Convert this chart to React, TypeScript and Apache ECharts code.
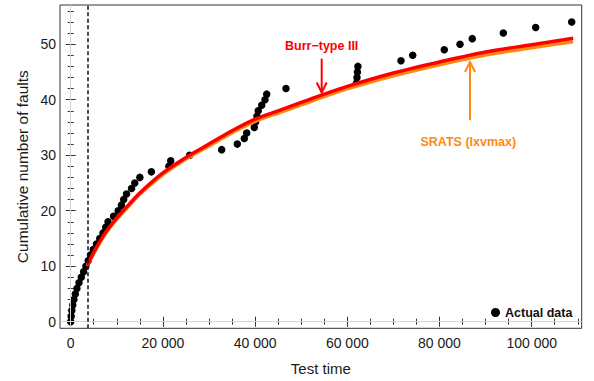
import React, { useEffect, useRef } from "react";
import * as echarts from "echarts";

// ---- Data ----
const faultTimes = [
  0, 100, 250, 450, 700, 1000, 1350, 1800, 2300, 2800, 3300, 3800, 4300, 4900, 5600, 6300,
  7000, 7600, 8100, 9300, 10300, 11000, 11500, 12100, 13200, 13900, 15000, 17500, 21300,
  21700, 25800, 32750, 36140, 37660, 38180, 39830, 40100, 40400, 40690, 41430, 42150, 42520,
  46700, 62000, 62100, 62200, 62300, 71650, 74190, 81040, 84450, 87110, 93840, 100870, 108680,
];
const faultCounts = [
  0, 1, 2, 3, 4, 5, 6, 7, 8, 9, 10, 11, 12, 13, 14, 15, 16, 17, 18, 19, 20, 21, 22, 23, 24,
  25, 26, 27, 28, 29, 30, 31, 32, 33, 34, 35, 36, 37, 38, 39, 40, 41, 42, 43, 44, 45, 46, 47,
  48, 49, 50, 51, 52, 53, 54,
];

const curveTimes = [
  3600, 5000, 7500, 10000, 12500, 15000, 20000, 25000, 30000, 35000, 40000, 45000, 50000,
  55000, 60000, 70000, 80000, 90000, 100000, 109000,
];
const burrValues = [
  10.1, 12.5, 16.0, 18.7, 21.0, 23.2, 26.8, 29.6, 32.0, 34.4, 36.5, 38.0, 39.5, 41.0, 42.4,
  44.8, 46.8, 48.6, 49.9, 51.06,
];
const sratsValues = [
  10.0, 12.35, 15.8, 18.5, 20.75, 22.95, 26.5, 29.3, 31.65, 34.05, 36.1, 37.6, 39.05, 40.55,
  41.95, 44.3, 46.3, 48.05, 49.35, 50.45,
];

const changePoint = 3600;

const xLabelValues = [0, 20000, 40000, 60000, 80000, 100000];
const xMinorTicks = [
  0, 5000, 10000, 15000, 20000, 25000, 30000, 35000, 40000, 45000, 50000, 55000, 60000, 65000,
  70000, 75000, 80000, 85000, 90000, 95000, 100000, 105000, 110000,
];
const yLabelValues = [0, 10, 20, 30, 40, 50];
const yMinorTicks = [
  0, 2, 4, 6, 8, 10, 12, 14, 16, 18, 20, 22, 24, 26, 28, 30, 32, 34, 36, 38, 40, 42, 44, 46,
  48, 50, 52, 54, 56,
];

const burrLabel = "Burr−type III";
const sratsLabel = "SRATS (lxvmax)";
const burrArrow = { t: 54450, from: 47.4, to: 41.3, label: 49.7 };
const sratsArrow = { t: 86620, from: 36.3, to: 46.8, labelT: 86250, label: 32.3 };

const X_MIN = -2320;
const X_MAX = 110850;
const Y_MIN = -1.19;
const Y_MAX = 57.06;

const FONT = '"Liberation Sans", Arial, sans-serif';
const RED = "#ff0000";
const ORANGE = "#ff8a10";

function fmt(v: number): string {
  if (v >= 1000) {
    const th = Math.floor(v / 1000);
    const rest = String(v % 1000).padStart(3, "0");
    return th + " " + rest;
  }
  return String(v);
}

function xAxisCfg(position: string, ticks: number[], len: number, labels: boolean) {
  return {
    type: "value",
    position,
    min: X_MIN,
    max: X_MAX,
    axisLine: { show: false },
    splitLine: { show: false },
    axisTick: {
      show: true,
      inside: true,
      length: len,
      customValues: ticks,
      lineStyle: { color: "#333", width: 1 },
    },
    axisLabel: labels
      ? {
          show: true,
          customValues: xLabelValues,
          formatter: (v: number) => fmt(v),
          color: "#1a1a1a",
          fontSize: 14,
          fontFamily: FONT,
          margin: 8,
        }
      : { show: false },
  };
}

function yAxisCfg(position: string, ticks: number[], len: number, labels: boolean) {
  return {
    type: "value",
    position,
    min: Y_MIN,
    max: Y_MAX,
    axisLine: { show: false },
    splitLine: { show: false },
    axisTick: {
      show: true,
      inside: true,
      length: len,
      customValues: ticks,
      lineStyle: { color: "#333", width: 1 },
    },
    axisLabel: labels
      ? {
          show: true,
          customValues: yLabelValues,
          color: "#1a1a1a",
          fontSize: 14,
          fontFamily: FONT,
          margin: 4,
        }
      : { show: false },
  };
}

function textEl(text: string, x: number, y: number, font: string, fill: string, rotation = 0) {
  return {
    type: "text",
    x,
    y,
    rotation,
    silent: true,
    style: {
      text,
      font,
      fill,
      align: "center",
      verticalAlign: "middle",
      textAlign: "center",
      textVerticalAlign: "middle",
    },
  };
}

export default function App() {
  const ref = useRef<HTMLDivElement>(null);

  useEffect(() => {
    document.body.style.margin = "0";
    if (!ref.current) return;
    const chart = echarts.init(ref.current, undefined, { renderer: "svg" });

    const scatterData = faultTimes.map((t, i) => [t, faultCounts[i]]);
    const burrData = curveTimes.map((t, i) => [t, burrValues[i]]);
    const sratsData = curveTimes.map((t, i) => [t, sratsValues[i]]);

    chart.setOption({
      animation: false,
      grid: {
        left: 60,
        top: 5,
        right: 12.3,
        bottom: 52.7,
        show: true,
        borderColor: "#333",
        borderWidth: 1,
        backgroundColor: "transparent",
      },
      legend: {
        data: ["Actual data"],
        left: 491,
        top: 306,
        icon: "circle",
        itemWidth: 9,
        itemHeight: 9,
        padding: 0,
        selectedMode: false,
        textStyle: { fontWeight: "bold", fontSize: 12.5, color: "#111", fontFamily: FONT },
      },
      xAxis: [
        xAxisCfg("bottom", xLabelValues, 5, true),
        xAxisCfg("bottom", xMinorTicks, 3, false),
        xAxisCfg("top", xLabelValues, 5, false),
        xAxisCfg("top", xMinorTicks, 3, false),
      ],
      yAxis: [
        yAxisCfg("left", yLabelValues, 5, true),
        yAxisCfg("left", yMinorTicks, 3, false),
        yAxisCfg("right", yLabelValues, 5, false),
        yAxisCfg("right", yMinorTicks, 3, false),
      ],
      series: [
        {
          type: "line",
          name: "refs",
          data: [],
          silent: true,
          markLine: {
            silent: true,
            symbol: ["none", "none"],
            label: { show: false },
            animation: false,
            data: [
              { xAxis: 0, lineStyle: { color: "#d4d4d4", width: 1, type: "solid" } },
              { yAxis: 0, lineStyle: { color: "#d4d4d4", width: 1, type: "solid" } },
              { xAxis: changePoint, lineStyle: { color: "#111", width: 1.5, type: [4, 2.5] } },
            ],
          },
        },
        {
          type: "scatter",
          name: "Actual data",
          data: scatterData,
          symbol: "circle",
          symbolSize: 7.5,
          itemStyle: { color: "#000", opacity: 1 },
          silent: true,
        },
        {
          type: "line",
          name: sratsLabel,
          data: sratsData,
          showSymbol: false,
          smooth: 0.3,
          lineStyle: { color: ORANGE, width: 3.5 },
          itemStyle: { color: ORANGE },
          silent: true,
        },
        {
          type: "line",
          name: burrLabel,
          data: burrData,
          showSymbol: false,
          smooth: 0.3,
          lineStyle: { color: RED, width: 3.5 },
          itemStyle: { color: RED },
          silent: true,
        },
      ],
    });

    const px = (t: number, v: number) =>
      chart.convertToPixel({ xAxisIndex: 0, yAxisIndex: 0 }, [t, v]) as number[];

    const bTop = px(burrArrow.t, burrArrow.from);
    const bTip = px(burrArrow.t, burrArrow.to);
    const bLab = px(burrArrow.t, burrArrow.label);
    const sBot = px(sratsArrow.t, sratsArrow.from);
    const sTip = px(sratsArrow.t, sratsArrow.to);
    const sLab = px(sratsArrow.labelT, sratsArrow.label);

    const plotLeft = 60;
    const plotRight = 594 - 12.3;
    const plotTop = 5;
    const plotBottom = 381 - 52.7;

    chart.setOption({
      graphic: [
        {
          type: "line",
          silent: true,
          shape: { x1: bTop[0], y1: bTop[1], x2: bTip[0], y2: bTip[1] },
          style: { stroke: RED, lineWidth: 2 },
        },
        {
          type: "polyline",
          silent: true,
          shape: {
            points: [
              [bTip[0] - 5, bTip[1] - 10],
              [bTip[0], bTip[1]],
              [bTip[0] + 5, bTip[1] - 10],
            ],
          },
          style: { stroke: RED, lineWidth: 2, fill: "none" },
        },
        textEl(burrLabel, bLab[0], bLab[1], `bold 12.5px ${FONT}`, RED),
        {
          type: "line",
          silent: true,
          shape: { x1: sBot[0], y1: sBot[1], x2: sTip[0], y2: sTip[1] },
          style: { stroke: ORANGE, lineWidth: 2 },
        },
        {
          type: "polyline",
          silent: true,
          shape: {
            points: [
              [sTip[0] - 5, sTip[1] + 10],
              [sTip[0], sTip[1]],
              [sTip[0] + 5, sTip[1] + 10],
            ],
          },
          style: { stroke: ORANGE, lineWidth: 2, fill: "none" },
        },
        textEl(sratsLabel, sLab[0], sLab[1], `bold 12.5px ${FONT}`, ORANGE),
        textEl("Test time", (plotLeft + plotRight) / 2, 368, `15px ${FONT}`, "#1a1a1a"),
        textEl(
          "Cumulative number of faults",
          22,
          (plotTop + plotBottom) / 2,
          `15.5px ${FONT}`,
          "#1a1a1a",
          Math.PI / 2
        ),
      ],
    });

    return () => chart.dispose();
  }, []);

  return <div ref={ref} style={{ width: 594, height: 381 }} />;
}
